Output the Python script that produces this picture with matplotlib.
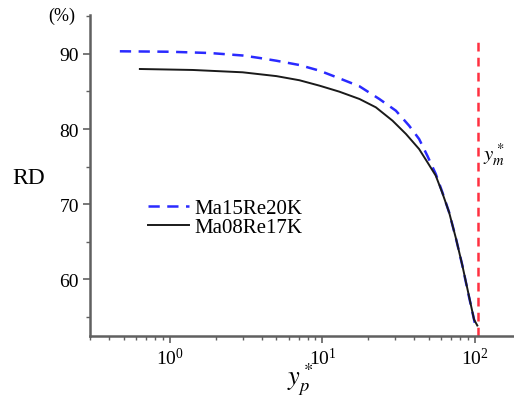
import numpy as np
import matplotlib
matplotlib.use('Agg')
import matplotlib.pyplot as plt
from matplotlib.ticker import LogLocator, MultipleLocator

plt.rcParams['font.family'] = ['Liberation Serif', 'DejaVu Serif']
plt.rcParams['mathtext.fontset'] = 'stix'

# Data
yp_blue = [0.471, 1.0, 1.83, 3.0, 3.87, 5.0, 7.07, 9.56, 12.9, 17.5, 23.6, 30.3,
           37.0, 43.0, 48.8, 55.3, 61.0, 67.6, 75.0, 82.6, 90.0, 100]
rd_blue = [90.36, 90.3, 90.13, 89.8, 89.47, 89.1, 88.53, 87.78, 86.76, 85.69, 84.0, 82.44,
           80.44, 78.67, 76.4, 74.0, 71.6, 68.9, 65.4, 61.8, 58.2, 54.0]
yp_black = [0.637, 1.414, 3.0, 5.0, 7.07, 9.56, 12.9, 17.5, 22.4, 28.8, 35.3,
            43.0, 48.8, 55.3, 61.0, 67.6, 75.0, 82.6, 90.0, 98.5, 103.5]
rd_black = [88.0, 87.87, 87.56, 87.05, 86.5, 85.78, 84.98, 84.0, 82.89, 81.11, 79.33,
            77.33, 75.56, 73.78, 71.5, 68.9, 65.4, 61.8, 58.3, 54.6, 53.8]
ym_star = 104
label_blue = 'Ma15Re20K'
label_black = 'Ma08Re17K'

SPINE = '#606060'

fig = plt.figure(figsize=(5.14, 4.10), dpi=100)
ax = fig.add_axes([0.175, 0.178, 0.825, 0.783])

ax.plot(yp_blue, rd_blue, color='#2a2aff', lw=1.8, dashes=(4.5, 3), label=label_blue)
ax.plot(yp_black, rd_black, color='#1a1a1a', lw=1.4, label=label_black)
ax.axvline(ym_star, ymax=0.925, color='#ff3040', lw=1.8, dashes=(3.5, 2.5))

ax.set_xscale('log')
ax.set_xlim(0.30, 180)
ax.set_ylim(52.4, 95.2)
ax.yaxis.set_major_locator(MultipleLocator(10))
ax.yaxis.set_minor_locator(MultipleLocator(5))
ax.xaxis.set_major_locator(LogLocator(base=10))
ax.xaxis.set_minor_locator(LogLocator(base=10, subs=np.arange(2, 10)))

for s in ['top', 'right']:
    ax.spines[s].set_visible(False)
for s in ['left', 'bottom']:
    ax.spines[s].set_color(SPINE)
    ax.spines[s].set_linewidth(1.8)
ax.tick_params(which='major', direction='out', length=5, width=1.2, color=SPINE,
               labelsize=14, pad=3)
ax.tick_params(which='minor', direction='out', length=3, width=1.0, color=SPINE)

fig.text(0.093, 0.96, '(%)', fontsize=13, ha='left', va='center')
fig.text(0.025, 0.565, 'RD', fontsize=17, ha='left', va='center')
fig.text(0.585, 0.073, r'$y_p^*$', fontsize=19, ha='center', va='center')
ax.text(0.928, 0.567, r'$y_m^*$', transform=ax.transAxes, fontsize=15,
        ha='left', va='center')

ax.legend(loc='upper left', bbox_to_anchor=(0.118, 0.455), frameon=False,
          fontsize=15, handlelength=1.95, handletextpad=0.25, labelspacing=0.0,
          borderaxespad=0)

fig.savefig('out.png', dpi=100)
